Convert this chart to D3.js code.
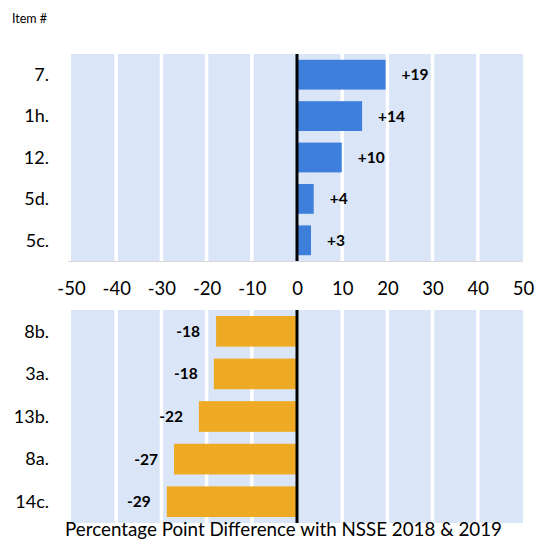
<!DOCTYPE html>
<html>
<head>
<meta charset="utf-8">
<script src="https://cdn.jsdelivr.net/npm/d3@7"></script>
<style>
  html, body { margin: 0; padding: 0; background: #ffffff; }
  svg { display: block; }
</style>
</head>
<body>
<svg id="chart" width="538" height="539"></svg>
<script>
const topCategories = ["7.", "1h.", "12.", "5d.", "5c."];
const topValues = [19.6, 14.4, 9.9, 3.7, 3.1];
const topLabels = ["+19", "+14", "+10", "+4", "+3"];

const bottomCategories = ["8b.", "3a.", "13b.", "8a.", "14c."];
const bottomValues = [-17.9, -18.4, -21.7, -27.2, -28.8];
const bottomLabels = ["-18", "-18", "-22", "-27", "-29"];

const tickValues = [-50, -40, -30, -20, -10, 0, 10, 20, 30, 40, 50];
const axisTitle = "Percentage Point Difference with NSSE 2018 & 2019";
const itemTitle = "Item #";

const FONT = "Lato, 'Open Sans', sans-serif";
const svg = d3.select("#chart");

const x = d3.scaleLinear().domain([-50, 50]).range([71, 523]);

function panel(cats, vals, labels, y0, y1, color, positive) {
  const y = d3.scaleBand().domain(cats).range([y0, y1]).paddingInner(0.28).paddingOuter(0.14);
  const g = svg.append("g");
  g.append("rect").attr("x", x(-50)).attr("y", y0).attr("width", x(50) - x(-50)).attr("height", y1 - y0)
    .attr("fill", "#dae5f7");
  g.selectAll("line.grid").data(tickValues.filter(t => t !== -50 && t !== 50 && t !== 0)).join("line")
    .attr("class", "grid")
    .attr("x1", d => x(d)).attr("x2", d => x(d)).attr("y1", y0).attr("y2", y1)
    .attr("stroke", "#ffffff").attr("stroke-width", 3.5);
  g.selectAll("rect.bar").data(vals).join("rect")
    .attr("class", "bar")
    .attr("x", d => Math.min(x(0), x(d)))
    .attr("width", d => Math.abs(x(d) - x(0)))
    .attr("y", (d, i) => y(cats[i]))
    .attr("height", y.bandwidth())
    .attr("fill", color);
  g.append("line").attr("x1", x(0)).attr("x2", x(0)).attr("y1", y0).attr("y2", y1)
    .attr("stroke", "#000000").attr("stroke-width", 3);
  g.selectAll("text.val").data(vals).join("text")
    .attr("class", "val")
    .attr("x", d => positive ? x(d) + 16 : x(d) - 16)
    .attr("y", (d, i) => y(cats[i]) + y.bandwidth() / 2)
    .attr("dy", "0.35em")
    .attr("text-anchor", positive ? "start" : "end")
    .attr("font-family", FONT).attr("font-weight", "bold").attr("font-size", 15.5)
    .attr("fill", "#000000")
    .text((d, i) => labels[i]);
  g.selectAll("text.cat").data(cats).join("text")
    .attr("class", "cat")
    .attr("x", 49)
    .attr("y", d => y(d) + y.bandwidth() / 2)
    .attr("dy", "0.35em")
    .attr("text-anchor", "end")
    .attr("font-family", FONT).attr("font-size", 18)
    .attr("fill", "#000000")
    .text(d => d);
  return y;
}

panel(topCategories, topValues, topLabels, 54, 261, "#3f7fdc", true);
svg.append("line").attr("x1", 68).attr("x2", 523).attr("y1", 261.5).attr("y2", 261.5)
  .attr("stroke", "#d9d9d9").attr("stroke-width", 1);
panel(bottomCategories, bottomValues, bottomLabels, 310, 523, "#eeaa24", false);

const axis = d3.axisBottom(x).tickValues(tickValues).tickSize(0).tickPadding(0)
  .tickFormat(d => String(d));
const ax = svg.append("g").attr("transform", "translate(0,282)").call(axis);
ax.select(".domain").remove();
ax.selectAll("text").attr("font-family", FONT).attr("font-size", 18.5).attr("fill", "#000000");

svg.append("text").attr("x", 12).attr("y", 23)
  .attr("font-family", FONT).attr("font-size", 12.5).attr("fill", "#000000").text(itemTitle);

svg.append("text").attr("x", 283.5).attr("y", 536)
  .attr("text-anchor", "middle")
  .attr("font-family", FONT).attr("font-size", 18.8).attr("fill", "#000000").text(axisTitle);
</script>
</body>
</html>
